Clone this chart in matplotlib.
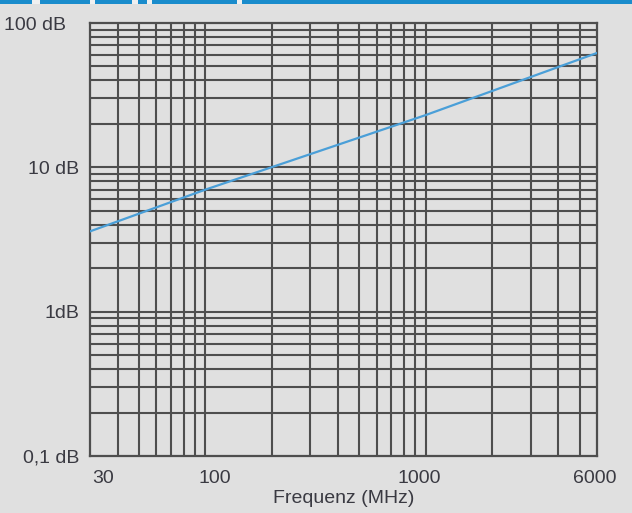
import matplotlib
matplotlib.use("Agg")
import matplotlib.pyplot as plt
import matplotlib.transforms as mtransforms
from matplotlib.patches import Rectangle

# values
freq_mhz = [30, 100, 1000, 6000]
atten_db = [3.6, 7.0, 23.0, 62.0]

x_ticks = [30, 100, 1000, 6000]
x_tick_labels = ["30", "100", "1000", "6000"]
y_ticks = [0.1, 1, 10, 100]
y_tick_labels = ["0,1 dB", "1dB", "10 dB", "100 dB"]

bg = "#e0e0e0"
grid_col = "#4e4e4e"
text_col = "#3a3a42"
line_col = "#4a9fd8"

plt.rcParams['font.family'] = ['Liberation Sans', 'DejaVu Sans']

fig = plt.figure(figsize=(6.32, 5.13), dpi=100, facecolor=bg)
ax = fig.add_axes([90 / 632, 57 / 513, 507 / 632, 433 / 513])
ax.set_facecolor(bg)

ax.set_xscale("log")
ax.set_yscale("log")
ax.set_xlim(30, 6000)
ax.set_ylim(0.1, 100)

# grid lines at every 1..9 step of each decade
xgrid = [m * 10 ** e for e in range(1, 4) for m in range(1, 10)]
xgrid = [v for v in xgrid if 30 < v < 6000]
ygrid = [m * 10.0 ** e for e in range(-1, 2) for m in range(1, 10)]
ygrid = [v for v in ygrid if 0.1 < v < 100]
for v in xgrid:
    ax.axvline(v, color=grid_col, lw=1.5, zorder=1)
for v in ygrid:
    ax.axhline(v, color=grid_col, lw=1.5, zorder=1)

for s in ax.spines.values():
    s.set_color(grid_col)
    s.set_linewidth(1.6)

ax.plot(freq_mhz, atten_db, color=line_col, lw=1.6, zorder=3)

ax.minorticks_off()
ax.set_xticks(x_ticks)
ax.set_xticklabels(x_tick_labels)
ax.set_yticks(y_ticks)
ax.set_yticklabels(y_tick_labels)
ax.tick_params(length=0, labelsize=14, colors=text_col, pad=10)
ax.tick_params(axis="y", pad=8)

# labels are placed by hand in the original, shift them a bit
x_shift = [13, 10, -6, -2]
for lab, dx in zip(ax.get_xticklabels(), x_shift):
    lab.set_transform(lab.get_transform() + mtransforms.ScaledTranslation(dx / 100, 0, fig.dpi_scale_trans))
y_shift = [0, 0, 0, -13]
for lab, dx in zip(ax.get_yticklabels(), y_shift):
    lab.set_transform(lab.get_transform() + mtransforms.ScaledTranslation(dx / 100, 0, fig.dpi_scale_trans))

ax.set_xlabel("Frequenz (MHz)", fontsize=14, color=text_col, labelpad=2)

# blue header strip cut off at the top of the picture
fig.patches.append(Rectangle((0, 1 - 3.5 / 513), 1, 3.5 / 513, transform=fig.transFigure,
                             facecolor="#1a8ccc", edgecolor="none"))
for x0, x1 in [(32, 40), (90, 95), (132, 138), (147, 152), (237, 242)]:
    fig.patches.append(Rectangle((x0 / 632, 1 - 3.5 / 513), (x1 - x0) / 632, 3.5 / 513,
                                 transform=fig.transFigure, facecolor="#f0f0f0", edgecolor="none"))

fig.savefig("out.png", dpi=100, facecolor=bg)
